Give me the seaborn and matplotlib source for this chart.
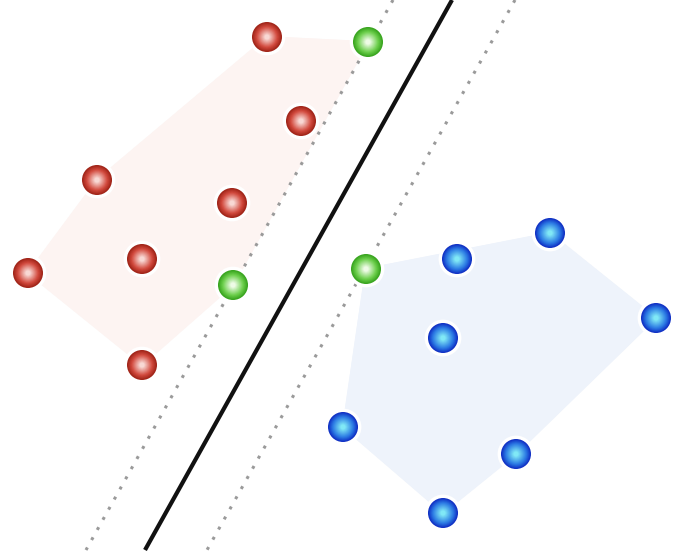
import matplotlib
matplotlib.use('Agg')
import numpy as np
import pandas as pd
import seaborn as sns
from matplotlib import pyplot as plt
from matplotlib.colors import to_rgb

# point positions (pixel space of the reference picture)
red_x = [267, 301, 97, 232, 142, 28, 142]
red_y = [37, 121, 180, 203, 259, 273, 365]
blue_x = [457, 550, 656, 443, 343, 516, 443]
blue_y = [259, 233, 318, 338, 427, 454, 513]
# support vectors: first two belong to red class, last to blue
green_x = [368, 233, 366]
green_y = [42, 285, 269]
green_cls = ["red", "red", "blue"]

# separating line and margins: x where each crosses y=0 and y=550
line_top_x = [393, 452, 515]
line_bottom_x = [86, 145, 207]
line_y = [0, 550]

styles = {
    "red": dict(edge="#a02418", mid="#d24a3e", light="#f8d8d4", fill="#fdf4f2"),
    "blue": dict(edge="#1030c4", mid="#2c7ae4", light="#80e8f6", fill="#eef3fb"),
    "green": dict(edge="#38a41e", mid="#6ccf4c", light="#eefbe6"),
}


def hull(pts):
    pts = sorted(set(pts))
    def cross(o, a, b):
        return (a[0]-o[0])*(b[1]-o[1]) - (a[1]-o[1])*(b[0]-o[0])
    lower, upper = [], []
    for p in pts:
        while len(lower) >= 2 and cross(lower[-2], lower[-1], p) <= 0:
            lower.pop()
        lower.append(p)
    for p in reversed(pts):
        while len(upper) >= 2 and cross(upper[-2], upper[-1], p) <= 0:
            upper.pop()
        upper.append(p)
    return np.array(lower[:-1] + upper[:-1])


def shade(c1, c2, t):
    a, b = np.array(to_rgb(c1)), np.array(to_rgb(c2))
    return tuple(a + (b - a) * t)


def glossy(ax, df, st):
    # white halo then a ball shaded from dark rim to pale centre
    sns.scatterplot(data=df, x="x", y="y", s=700, color="white", edgecolor="none", ax=ax, zorder=5, legend=False)
    n = 14
    for i in range(n):
        t = i / (n - 1)
        d = 30 * (1 - t) + 5 * t
        s = (d * 0.72) ** 2
        if t < 0.35:
            c = shade(st["edge"], st["mid"], t / 0.35)
        else:
            c = shade(st["mid"], st["light"], (t - 0.35) / 0.65)
        sns.scatterplot(data=df, x="x", y="y", s=s, color=c, edgecolor="none", ax=ax, zorder=6 + i, legend=False)


sns.set_style("white")
fig = plt.figure(figsize=(6.85, 5.58), dpi=100)
ax = fig.add_axes([0, 0, 1, 1])
ax.set_xlim(0, 685)
ax.set_ylim(558, 0)
ax.axis("off")

red_pts = list(zip(red_x, red_y)) + [(x, y) for x, y, c in zip(green_x, green_y, green_cls) if c == "red"]
blue_pts = list(zip(blue_x, blue_y)) + [(x, y) for x, y, c in zip(green_x, green_y, green_cls) if c == "blue"]
for pts, st in [(red_pts, styles["red"]), (blue_pts, styles["blue"])]:
    h = hull(pts)
    ax.fill(h[:, 0], h[:, 1], color=st["fill"], zorder=1)
    ax.plot(np.append(h[:, 0], h[0, 0]), np.append(h[:, 1], h[0, 1]), color=st["fill"], lw=1.2, zorder=1)

for i, (xt, xb) in enumerate(zip(line_top_x, line_bottom_x)):
    if i == 1:
        ax.plot([xt, xb], line_y, color="#111111", lw=3.0, solid_capstyle="butt", zorder=3)
    else:
        ax.plot([xt, xb], line_y, color="#9a9a9a", lw=2.2, linestyle=(0, (1, 2.8)), zorder=3)

glossy(ax, pd.DataFrame({"x": red_x, "y": red_y}), styles["red"])
glossy(ax, pd.DataFrame({"x": blue_x, "y": blue_y}), styles["blue"])
glossy(ax, pd.DataFrame({"x": green_x, "y": green_y}), styles["green"])

fig.savefig("out.png", dpi=100)
